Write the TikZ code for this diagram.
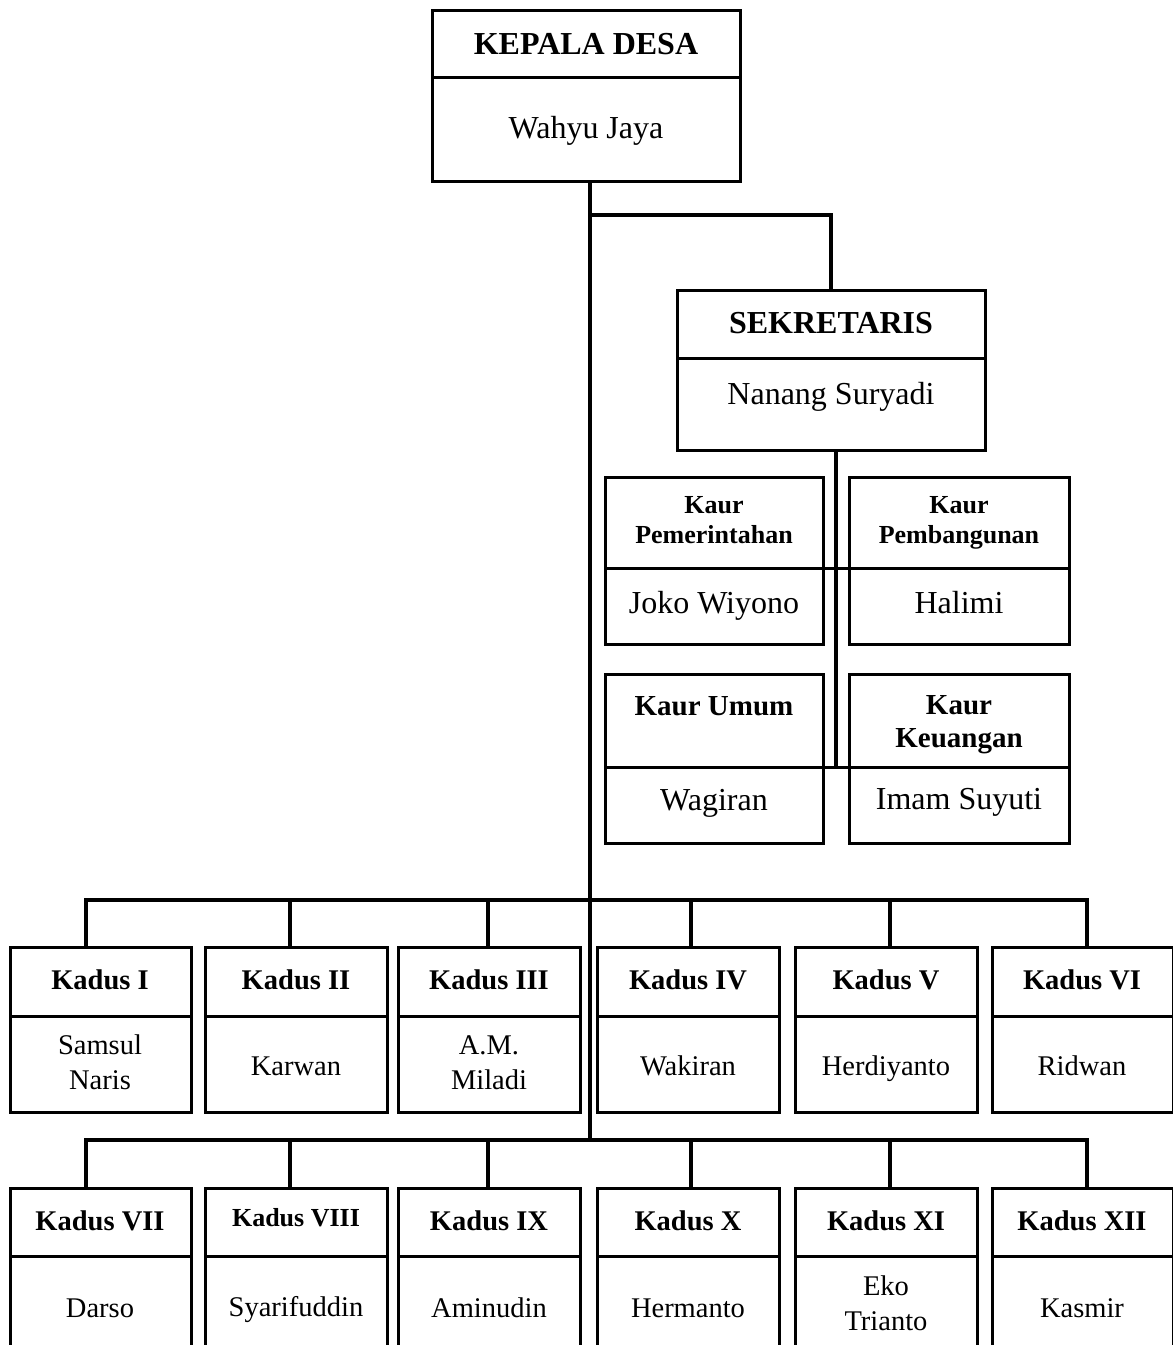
\documentclass[tikz,border=0pt]{standalone}
\usepackage{fontspec}
\setmainfont{Liberation Serif}
\tikzset{
  ubox/.style={draw, line width=3pt, inner sep=0pt, outer sep=0pt},
  ln/.style={line width=3.2pt},
  oneA/.style={text height=23pt, text depth=7pt},
  oneK/.style={text height=20.5pt, text depth=6.3pt},
  oneM/.style={text height=20.9pt, text depth=6.4pt},
  hdA/.style={font={\fontsize{32}{38}\selectfont\bfseries}, align=center, inner sep=0pt},
  nmA/.style={font={\fontsize{32}{38}\selectfont}, align=center, inner sep=0pt},
  hdK/.style={font={\fontsize{28.5}{34}\selectfont\bfseries}, align=center, inner sep=0pt},
  nmK/.style={font={\fontsize{28.5}{35}\selectfont}, align=center, inner sep=0pt},
  hdS/.style={font={\fontsize{26}{30}\selectfont\bfseries}, align=center, inner sep=0pt},
  hdM/.style={font={\fontsize{29}{33}\selectfont\bfseries}, align=center, inner sep=0pt},
}
\newcommand\orgbox[6]{%
  \node[ubox, minimum width={#4-#2}, minimum height={#5-#3}] (#1) at ({(#2+#4)/2},{(#3+#5)/2}) {};
  \coordinate (#1-dl) at (#2,#6);
  \coordinate (#1-dr) at (#4,#6);
  \draw[line width=3pt] (#1-dl) -- (#1-dr);
}
\begin{document}
\begin{tikzpicture}[x=1pt,y=-1pt]
\clip (0,0) rectangle (1173,1345);
\fill[white] (0,0) rectangle (1173,1345);

% Kepala Desa
\orgbox{kd}{432}{10}{740}{181}{77}
\node[hdA,oneA] (kdh) at (586,46) {KEPALA DESA};
\node[nmA,oneA] (kdn) at (586,130) {Wahyu Jaya};

% Sekretaris
\orgbox{sek}{677}{290}{985}{450}{358}
\node[hdA,oneA] (sekh) at (831,325) {SEKRETARIS};
\node[nmA,oneA] (sekn) at (831,396) {Nanang Suryadi};

% Kaur boxes
\orgbox{kpem}{605}{477}{823}{644}{568}
\node[hdS] (kpemh) at (714,520) {Kaur\\Pemerintahan};
\node[nmA,oneA] (kpemn) at (714,605) {Joko Wiyono};

\orgbox{kpemb}{849}{477}{1069}{644}{568}
\node[hdS] (kpembh) at (959,523) {Kaur\\Pembangunan};
\node[nmA,oneA] (kpembn) at (959,605) {Halimi};

\orgbox{kum}{605}{674}{823}{843}{767}
\node[hdM,oneM] (kumh) at (714,708) {Kaur Umum};
\node[nmA,oneA] (kumn) at (714,802) {Wagiran};

\orgbox{kkeu}{849}{674}{1069}{843}{767}
\node[hdM] (kkeuh) at (959,725) {Kaur\\Keuangan};
\node[nmA,oneA] (kkeun) at (959,801) {Imam Suyuti};

% Kadus boxes, row 1 and row 2
\foreach \i/\l/\r in {1/10/191, 2/205/387, 3/398/580, 4/597/779, 5/795/977, 6/992/1173}{
  \orgbox{ka\i}{\l}{947}{\r}{1112}{1016}
}
\foreach \i/\l/\r in {7/10/191, 8/205/387, 9/398/580, 10/597/779, 11/795/977, 12/992/1173}{
  \orgbox{ka\i}{\l}{1188}{\r}{1368}{1256}
}

\node[hdK,oneK] (h1) at (100,982) {Kadus I};
\node[hdK,oneK] (h2) at (296,982) {Kadus II};
\node[hdK,oneK] (h3) at (489,982) {Kadus III};
\node[hdK,oneK] (h4) at (688,982) {Kadus IV};
\node[hdK,oneK] (h5) at (886,982) {Kadus V};
\node[hdK,oneK] (h6) at (1082,982) {Kadus VI};
\node[nmK] (n1) at (100,1062) {Samsul\\Naris};
\node[nmK,oneK] (n2) at (296,1068) {Karwan};
\node[nmK] (n3) at (489,1063) {A.M.\\Miladi};
\node[nmK,oneK] (n4) at (688,1068) {Wakiran};
\node[nmK,oneK] (n5) at (886,1068) {Herdiyanto};
\node[nmK,oneK] (n6) at (1082,1068) {Ridwan};

\node[hdK,oneK] (h7) at (100,1223) {Kadus VII};
\node[font={\fontsize{26}{30}\selectfont\bfseries}, inner sep=0pt] (h8) at (296,1218) {Kadus VIII};
\node[hdK,oneK] (h9) at (489,1223) {Kadus IX};
\node[hdK,oneK] (h10) at (688,1223) {Kadus X};
\node[hdK,oneK] (h11) at (886,1223) {Kadus XI};
\node[hdK,oneK] (h12) at (1082,1223) {Kadus XII};
\node[nmK,oneK] (n7) at (100,1310) {Darso};
\node[nmK,oneK] (n8) at (296,1309) {Syarifuddin};
\node[nmK,oneK] (n9) at (489,1310) {Aminudin};
\node[nmK,oneK] (n10) at (688,1310) {Hermanto};
\node[nmK] (n11) at (886,1303) {Eko\\Trianto};
\node[nmK,oneK] (n12) at (1082,1310) {Kasmir};

% Connectors
\coordinate (spine) at (590,1140);
\coordinate (j1) at (590,215);
\draw[ln] (kd.south -| spine) -- (spine);
\draw[ln] (j1) -| (sek.north);
\coordinate (kv) at (836,767);
\draw[ln] (sek.south -| kv) -- (kv);
\draw[line width=3pt] (kpem-dr) -- (kpemb-dl);
\draw[line width=3pt] (kum-dr) -- (kkeu-dl);

\foreach \i/\x in {1/86, 2/290, 3/488, 4/691, 5/890, 6/1087}{
  \coordinate (a\i) at (\x,900);
}
\foreach \i/\x in {7/86, 8/290, 9/488, 10/691, 11/890, 12/1087}{
  \coordinate (a\i) at (\x,1140);
}
\draw[ln] (a1 |- ka1.north) -- (a1) -- (a6) -- (a6 |- ka6.north);
\foreach \i in {2,3,4,5}{ \draw[ln] (a\i) -- (a\i |- ka\i.north); }
\draw[ln] (a7 |- ka7.north) -- (a7) -- (a12) -- (a12 |- ka12.north);
\foreach \i in {8,9,10,11}{ \draw[ln] (a\i) -- (a\i |- ka\i.north); }
\end{tikzpicture}
\end{document}
